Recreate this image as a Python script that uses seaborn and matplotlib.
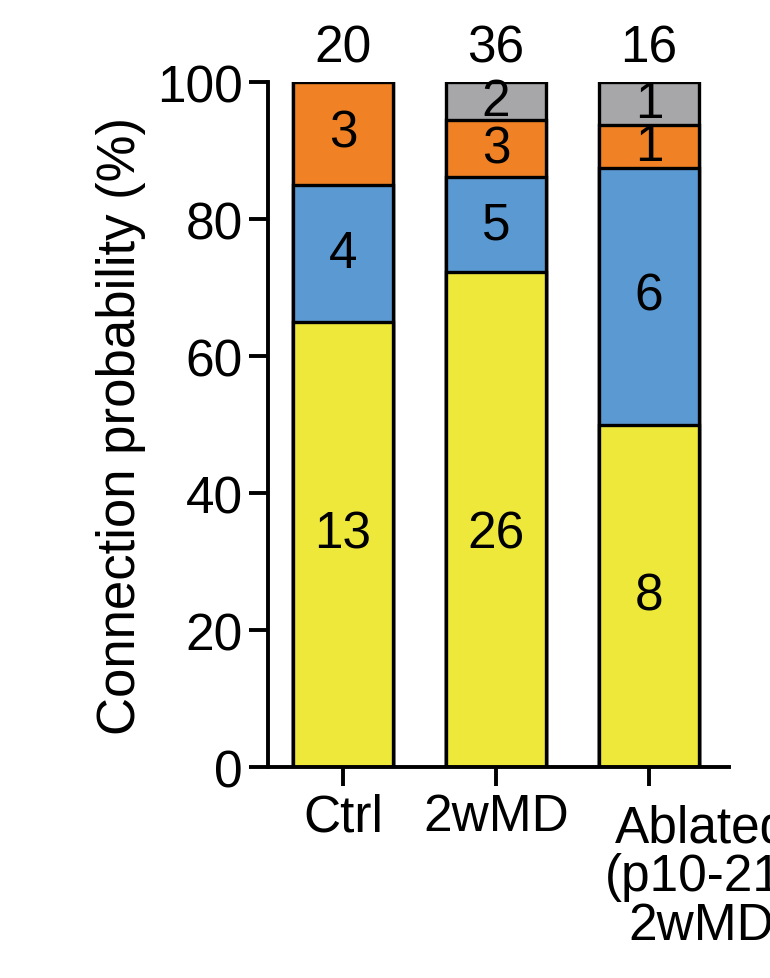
import numpy as np
import pandas as pd
import matplotlib
matplotlib.use("Agg")
import matplotlib.pyplot as plt
import seaborn as sns

plt.rcParams["font.family"] = "Liberation Sans"

groups = ["Ctrl", "2wMD", "Ablated"]
n_yellow = [13, 26, 8]
n_blue = [4, 5, 6]
n_orange = [3, 3, 1]
n_gray = [0, 2, 1]
totals = [20, 36, 16]
layer_colors = ["#EDE83A", "#5B99D3", "#F08124", "#A7A7AA"]

counts = np.array([n_yellow, n_blue, n_orange, n_gray], dtype=float)
pct = counts / np.array(totals) * 100
cum = np.cumsum(pct, axis=0)

fig = plt.figure(figsize=(7.7, 9.79), dpi=100)
ax = fig.add_axes([0.348, 0.2155, 0.652, 0.6997])

# draw cumulative bars from top layer down
for i in range(3, -1, -1):
    df = pd.DataFrame({"group": groups, "val": cum[i]})
    sns.barplot(data=df, x="group", y="val", color=layer_colors[i], width=0.654,
                edgecolor="black", linewidth=2.4, saturation=1, ax=ax)

fs = 37
for j in range(3):
    lo = 0
    for i in range(4):
        if counts[i, j] > 0:
            mid = lo + pct[i, j] / 2
            if i == 0:
                mid = 34 if j < 2 else 25
            ax.text(j, mid, f"{int(counts[i, j])}", ha="center", va="center", fontsize=fs)
        lo += pct[i, j]
    ax.text(j, 105, f"{totals[j]}", ha="center", va="center", fontsize=fs, clip_on=False)

ax.set_xlim(-0.49, 2.79)
ax.set_ylim(0, 100)
ax.set_yticks([0, 20, 40, 60, 80, 100])
ax.set_xticks([0, 1, 2])
ax.set_xticklabels(["Ctrl", "2wMD", ""])
ax.text(1.71, -5.3, "Ablated\n(p10-21)\n2wMD", ha="left", va="top", fontsize=fs,
        multialignment="center", linespacing=1.0, clip_on=False)
ax.set_xlabel("")
ax.set_ylabel("Connection probability (%)", fontsize=38, labelpad=8)
ax.tick_params(axis="both", labelsize=fs, width=2.8, length=14, direction="out", pad=4)
for s in ["top", "right"]:
    ax.spines[s].set_visible(False)
for s in ["left", "bottom"]:
    ax.spines[s].set_linewidth(2.8)
ax.spines["bottom"].set_bounds(-0.49, 2.52)

fig.savefig("out.png", dpi=100)
